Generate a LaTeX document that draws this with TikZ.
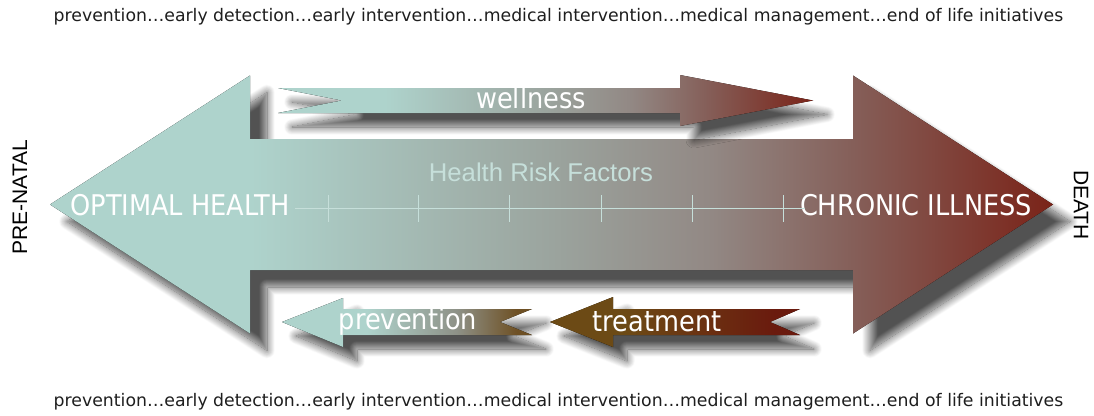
\documentclass[tikz,border=0pt]{standalone}
\usepackage{fontspec}
\setmainfont{DejaVu Sans}
\newfontfamily\condfont{DejaVu Sans Condensed}
\newfontfamily\arialfont{Liberation Sans}
\usetikzlibrary{shadows.blur}
\definecolor{tealc}{HTML}{AED3CC}
\definecolor{midgray}{HTML}{9BA49E}
\definecolor{rosegray}{HTML}{928884}
\definecolor{rosebrown}{HTML}{855F59}
\definecolor{illred}{HTML}{7A2318}
\definecolor{prevbrown}{HTML}{6E5024}
\definecolor{prevmid}{HTML}{8E9187}
\definecolor{treatbrown}{HTML}{6C4A15}
\definecolor{treatred}{HTML}{6A1A0E}
\definecolor{axisc}{HTML}{C6DFDA}
\definecolor{stagec}{HTML}{1E1E1E}
\pgfdeclarehorizontalshading{healthshade}{100bp}{color(0bp)=(tealc); color(35bp)=(tealc); color(50bp)=(midgray); color(58bp)=(rosegray); color(65bp)=(rosebrown); color(75bp)=(illred); color(100bp)=(illred)}
\pgfdeclarehorizontalshading{prevshade}{100bp}{color(0bp)=(tealc); color(42bp)=(tealc); color(60bp)=(prevmid); color(72bp)=(prevbrown); color(100bp)=(prevbrown)}
\pgfdeclarehorizontalshading{treatshade}{100bp}{color(0bp)=(treatbrown); color(40bp)=(treatbrown); color(70bp)=(treatred); color(100bp)=(treatred)}
\tikzset{
  dropshadow/.style={blur shadow={shadow xshift=#1, shadow yshift=-#1, shadow blur radius=8pt, shadow opacity=68, shadow blur steps=16}},
  biglabel/.style={text=white, font=\condfont\fontsize{28.5}{28.5}\selectfont, inner sep=0pt},
  smalllabel/.style={text=white, font=\condfont\fontsize{28.5}{28.5}\selectfont, inner sep=0pt},
  stagetext/.style={text=stagec, font=\fontsize{17.3}{17.3}\selectfont, inner sep=0pt},
  sidelabel/.style={font=\arialfont\fontsize{21}{21}\selectfont, inner sep=0pt},
  tickline/.style={axisc, line width=1pt}
}
\begin{document}
\begin{tikzpicture}[x=1pt, y=-1pt]
\useasboundingbox (0,0) rectangle (1094,415);
\fill[shading=healthshade, dropshadow=17pt] (50,204.5) -- (250,75.5) -- (250,139) -- (853,139) -- (853,75.5) -- (1053,204.5) -- (853,333.5) -- (853,270) -- (250,270) -- (250,333.5) -- cycle;
\fill[shading=healthshade, dropshadow=14pt] (278,88) -- (680,88) -- (680,75) -- (813,100.5) -- (680,126) -- (680,113) -- (278,113) -- (342,100.5) -- cycle;
\fill[shading=prevshade, dropshadow=14pt] (282,322) -- (343,298) -- (343,309) -- (532,309) -- (500,322) -- (532,335) -- (343,335) -- (343,347) -- cycle;
\fill[shading=treatshade, dropshadow=14pt] (550,322) -- (613,297) -- (613,309) -- (800,309) -- (770,322) -- (800,335) -- (613,335) -- (613,347) -- cycle;
\node[stagetext] (stagestop) at (558.5,17) {prevention…early detection…early intervention…medical intervention…medical management…end of life initiatives};
\node[stagetext] (stagesbottom) at (558.5,402) {prevention…early detection…early intervention…medical intervention…medical management…end of life initiatives};
\node[biglabel] (optimal) at (180,205) {OPTIMAL HEALTH};
\node[biglabel] (chronic) at (916,205) {CHRONIC ILLNESS};
\node[font=\arialfont\fontsize{25.7}{25.7}\selectfont, text=axisc, inner sep=0pt] (riskfactors) at (541,172) {Health Risk Factors};
\node[smalllabel] (wellness) at (531,98) {wellness};
\node[smalllabel] (prevention) at (408,322) {prevention};
\node[smalllabel] (treatment) at (657,322) {treatment};
\node[sidelabel, rotate=90] (prenatal) at (20,197) {PRE-NATAL};
\node[sidelabel, rotate=-90] (death) at (1081,205) {DEATH};
\coordinate (axisstart) at (295,208);
\coordinate (axisend) at (805,208);
\draw[tickline] (axisstart) -- (axisend);
\foreach \tx in {328,418,509,601,692,783}
  \draw[tickline] (\tx,195) -- (\tx,222);
\end{tikzpicture}
\end{document}
